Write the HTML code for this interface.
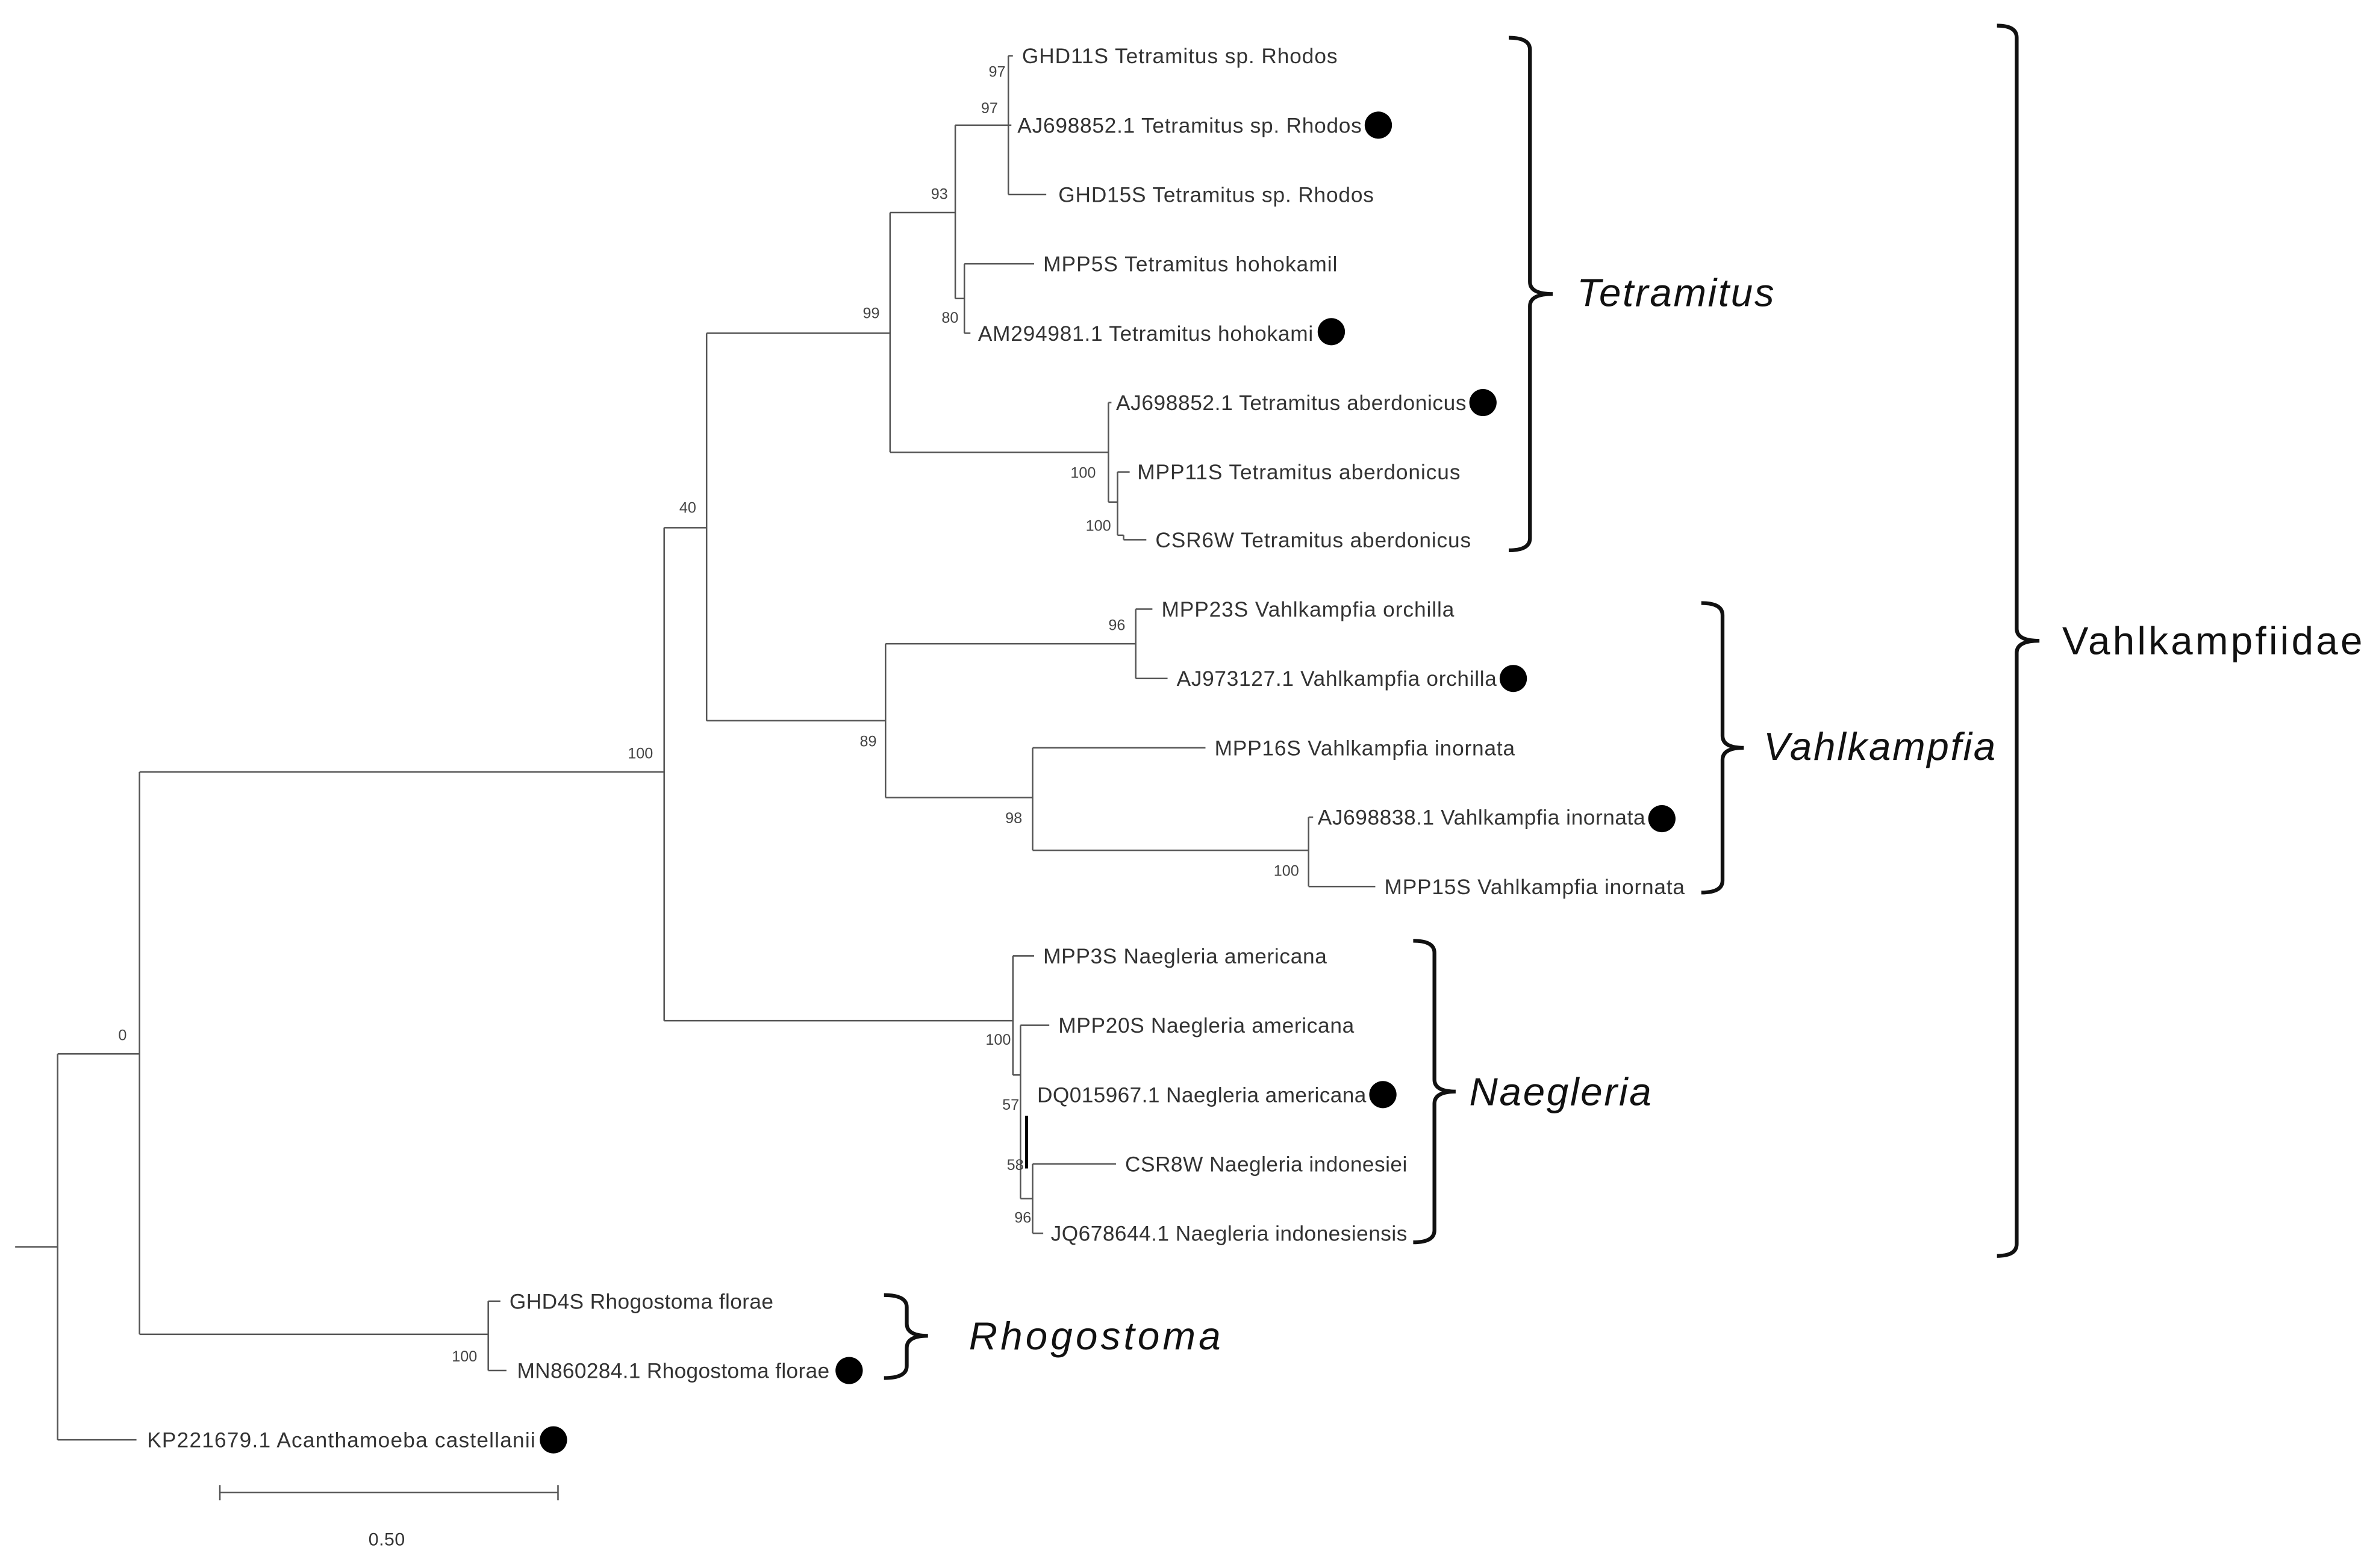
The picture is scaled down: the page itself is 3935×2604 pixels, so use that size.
<!DOCTYPE html>
<html><head><meta charset="utf-8"><style>
html,body{margin:0;padding:0;background:#fff;}
svg{display:block;}
.l{font-family:"Liberation Sans",sans-serif;font-size:14px;fill:#333;}
.b{font-family:"Liberation Sans",sans-serif;font-size:10px;fill:#444;}
.g{font-family:"Liberation Sans",sans-serif;font-size:26px;font-style:italic;fill:#111;}
</style></head><body>
<svg width="3935" height="2604" viewBox="0 0 1563 1040" preserveAspectRatio="none" xmlns="http://www.w3.org/2000/svg">
<g stroke="#555" stroke-width="1" fill="none">
<path d="M10,827H38M38,699V955M38,699H92M38,955H90"/>
<path d="M92,512V885M92,512H438M92,885H322"/>
<path d="M322,863V909M322,863H330M322,909H334"/>
<path d="M438,350V677M438,350H466M438,677H668"/>
<path d="M466,221V478M466,221H587M466,478H584"/>
<path d="M587,141V300M587,141H630M587,300H731"/>
<path d="M630,83V198M630,83H665M630,198H636"/>
<path d="M665,37V129M665,37H668M665,83H667M665,129H690"/>
<path d="M636,175V221M636,175H682M636,221H640"/>
<path d="M731,267V333M731,267H733M731,333H737"/>
<path d="M737,313V355M737,313H745M737,355H741M741,355V358M741,358H756"/>
<path d="M584,427V529M584,427H749M584,529H681"/>
<path d="M749,404V450M749,404H760M749,450H770"/>
<path d="M681,496V564M681,496H795M681,564H863"/>
<path d="M863,542V588M863,542H866M863,588H907"/>
<path d="M668,634V713M668,634H682M668,713H673"/>
<path d="M673,680V795M673,680H692"/>
<path d="M673,795H681M681,772V818M681,772H736M681,818H688"/>
<path d="M145,990H368M145,985V995M368,985V995"/>
</g>
<path d="M677,740V775" stroke="#000" stroke-width="2"/>
<g class="l">
<text x="674" y="42" textLength="208">GHD11S Tetramitus sp. Rhodos</text>
<text x="671" y="88" textLength="227">AJ698852.1 Tetramitus sp. Rhodos</text>
<text x="698" y="134" textLength="208">GHD15S Tetramitus sp. Rhodos</text>
<text x="688" y="180" textLength="194">MPP5S Tetramitus hohokamil</text>
<text x="645" y="226" textLength="221">AM294981.1 Tetramitus hohokami</text>
<text x="736" y="272" textLength="231">AJ698852.1 Tetramitus aberdonicus</text>
<text x="750" y="318" textLength="213">MPP11S Tetramitus aberdonicus</text>
<text x="762" y="363" textLength="208">CSR6W Tetramitus aberdonicus</text>
<text x="766" y="409" textLength="193">MPP23S Vahlkampfia orchilla</text>
<text x="776" y="455" textLength="211">AJ973127.1 Vahlkampfia orchilla</text>
<text x="801" y="501" textLength="198">MPP16S Vahlkampfia inornata</text>
<text x="869" y="547" textLength="216">AJ698838.1 Vahlkampfia inornata</text>
<text x="913" y="593" textLength="198">MPP15S Vahlkampfia inornata</text>
<text x="688" y="639" textLength="187">MPP3S Naegleria americana</text>
<text x="698" y="685" textLength="195">MPP20S Naegleria americana</text>
<text x="684" y="731" textLength="217">DQ015967.1 Naegleria americana</text>
<text x="742" y="777" textLength="186">CSR8W Naegleria indonesiei</text>
<text x="693" y="823" textLength="235">JQ678644.1 Naegleria indonesiensis</text>
<text x="336" y="868" textLength="174">GHD4S Rhogostoma florae</text>
<text x="341" y="914" textLength="206">MN860284.1 Rhogostoma florae</text>
<text x="97" y="960" textLength="256">KP221679.1  Acanthamoeba castellanii</text>
<text x="243" y="1025" textLength="24" style="font-size:12px">0.50</text>
</g>
<g class="b">
<text x="652" y="51">97</text><text x="647" y="75">97</text><text x="614" y="132">93</text>
<text x="621" y="214">80</text><text x="569" y="211">99</text><text x="706" y="317">100</text>
<text x="716" y="352">100</text><text x="448" y="340">40</text><text x="731" y="418">96</text>
<text x="567" y="495">89</text><text x="663" y="546">98</text><text x="840" y="581">100</text>
<text x="414" y="503">100</text><text x="78" y="690">0</text><text x="650" y="693">100</text>
<text x="661" y="736">57</text><text x="664" y="776">58</text><text x="669" y="811">96</text>
<text x="298" y="903">100</text>
</g>
<g fill="#000">
<circle cx="909" cy="83" r="9"/><circle cx="878" cy="220" r="9"/><circle cx="978" cy="267" r="9"/>
<circle cx="998" cy="450" r="9"/><circle cx="1096" cy="543" r="9"/><circle cx="912" cy="726" r="9"/>
<circle cx="560" cy="909" r="9"/><circle cx="365" cy="955" r="9"/>
</g>
<g stroke="#111" stroke-width="2.5" fill="none">
<path d="M995,25Q1009,25 1009,33V187Q1009,195 1024,195Q1009,195 1009,203V357Q1009,365 995,365"/>
<path d="M1122,400Q1136,400 1136,408V488Q1136,496 1150,496Q1136,496 1136,504V584Q1136,592 1122,592"/>
<path d="M932,624Q946,624 946,632V716Q946,724 960,724Q946,724 946,732V816Q946,824 932,824"/>
<path d="M583,859Q598,859 598,867V878Q598,886 612,886Q598,886 598,894V906Q598,914 583,914"/>
<path d="M1317,17Q1330,17 1330,25V417Q1330,425 1345,425Q1330,425 1330,433V825Q1330,833 1317,833"/>
</g>
<text class="g" x="1040" y="203" textLength="130">Tetramitus</text>
<text class="g" x="1163" y="504" textLength="153">Vahlkampfia</text>
<text class="g" x="969" y="733" textLength="120">Naegleria</text>
<text class="g" x="639" y="895" textLength="166">Rhogostoma</text>
<text x="1360" y="434" textLength="198" style="font-family:'Liberation Sans',sans-serif;font-size:26px;fill:#111">Vahlkampfiidae</text>
</svg>
</body></html>
